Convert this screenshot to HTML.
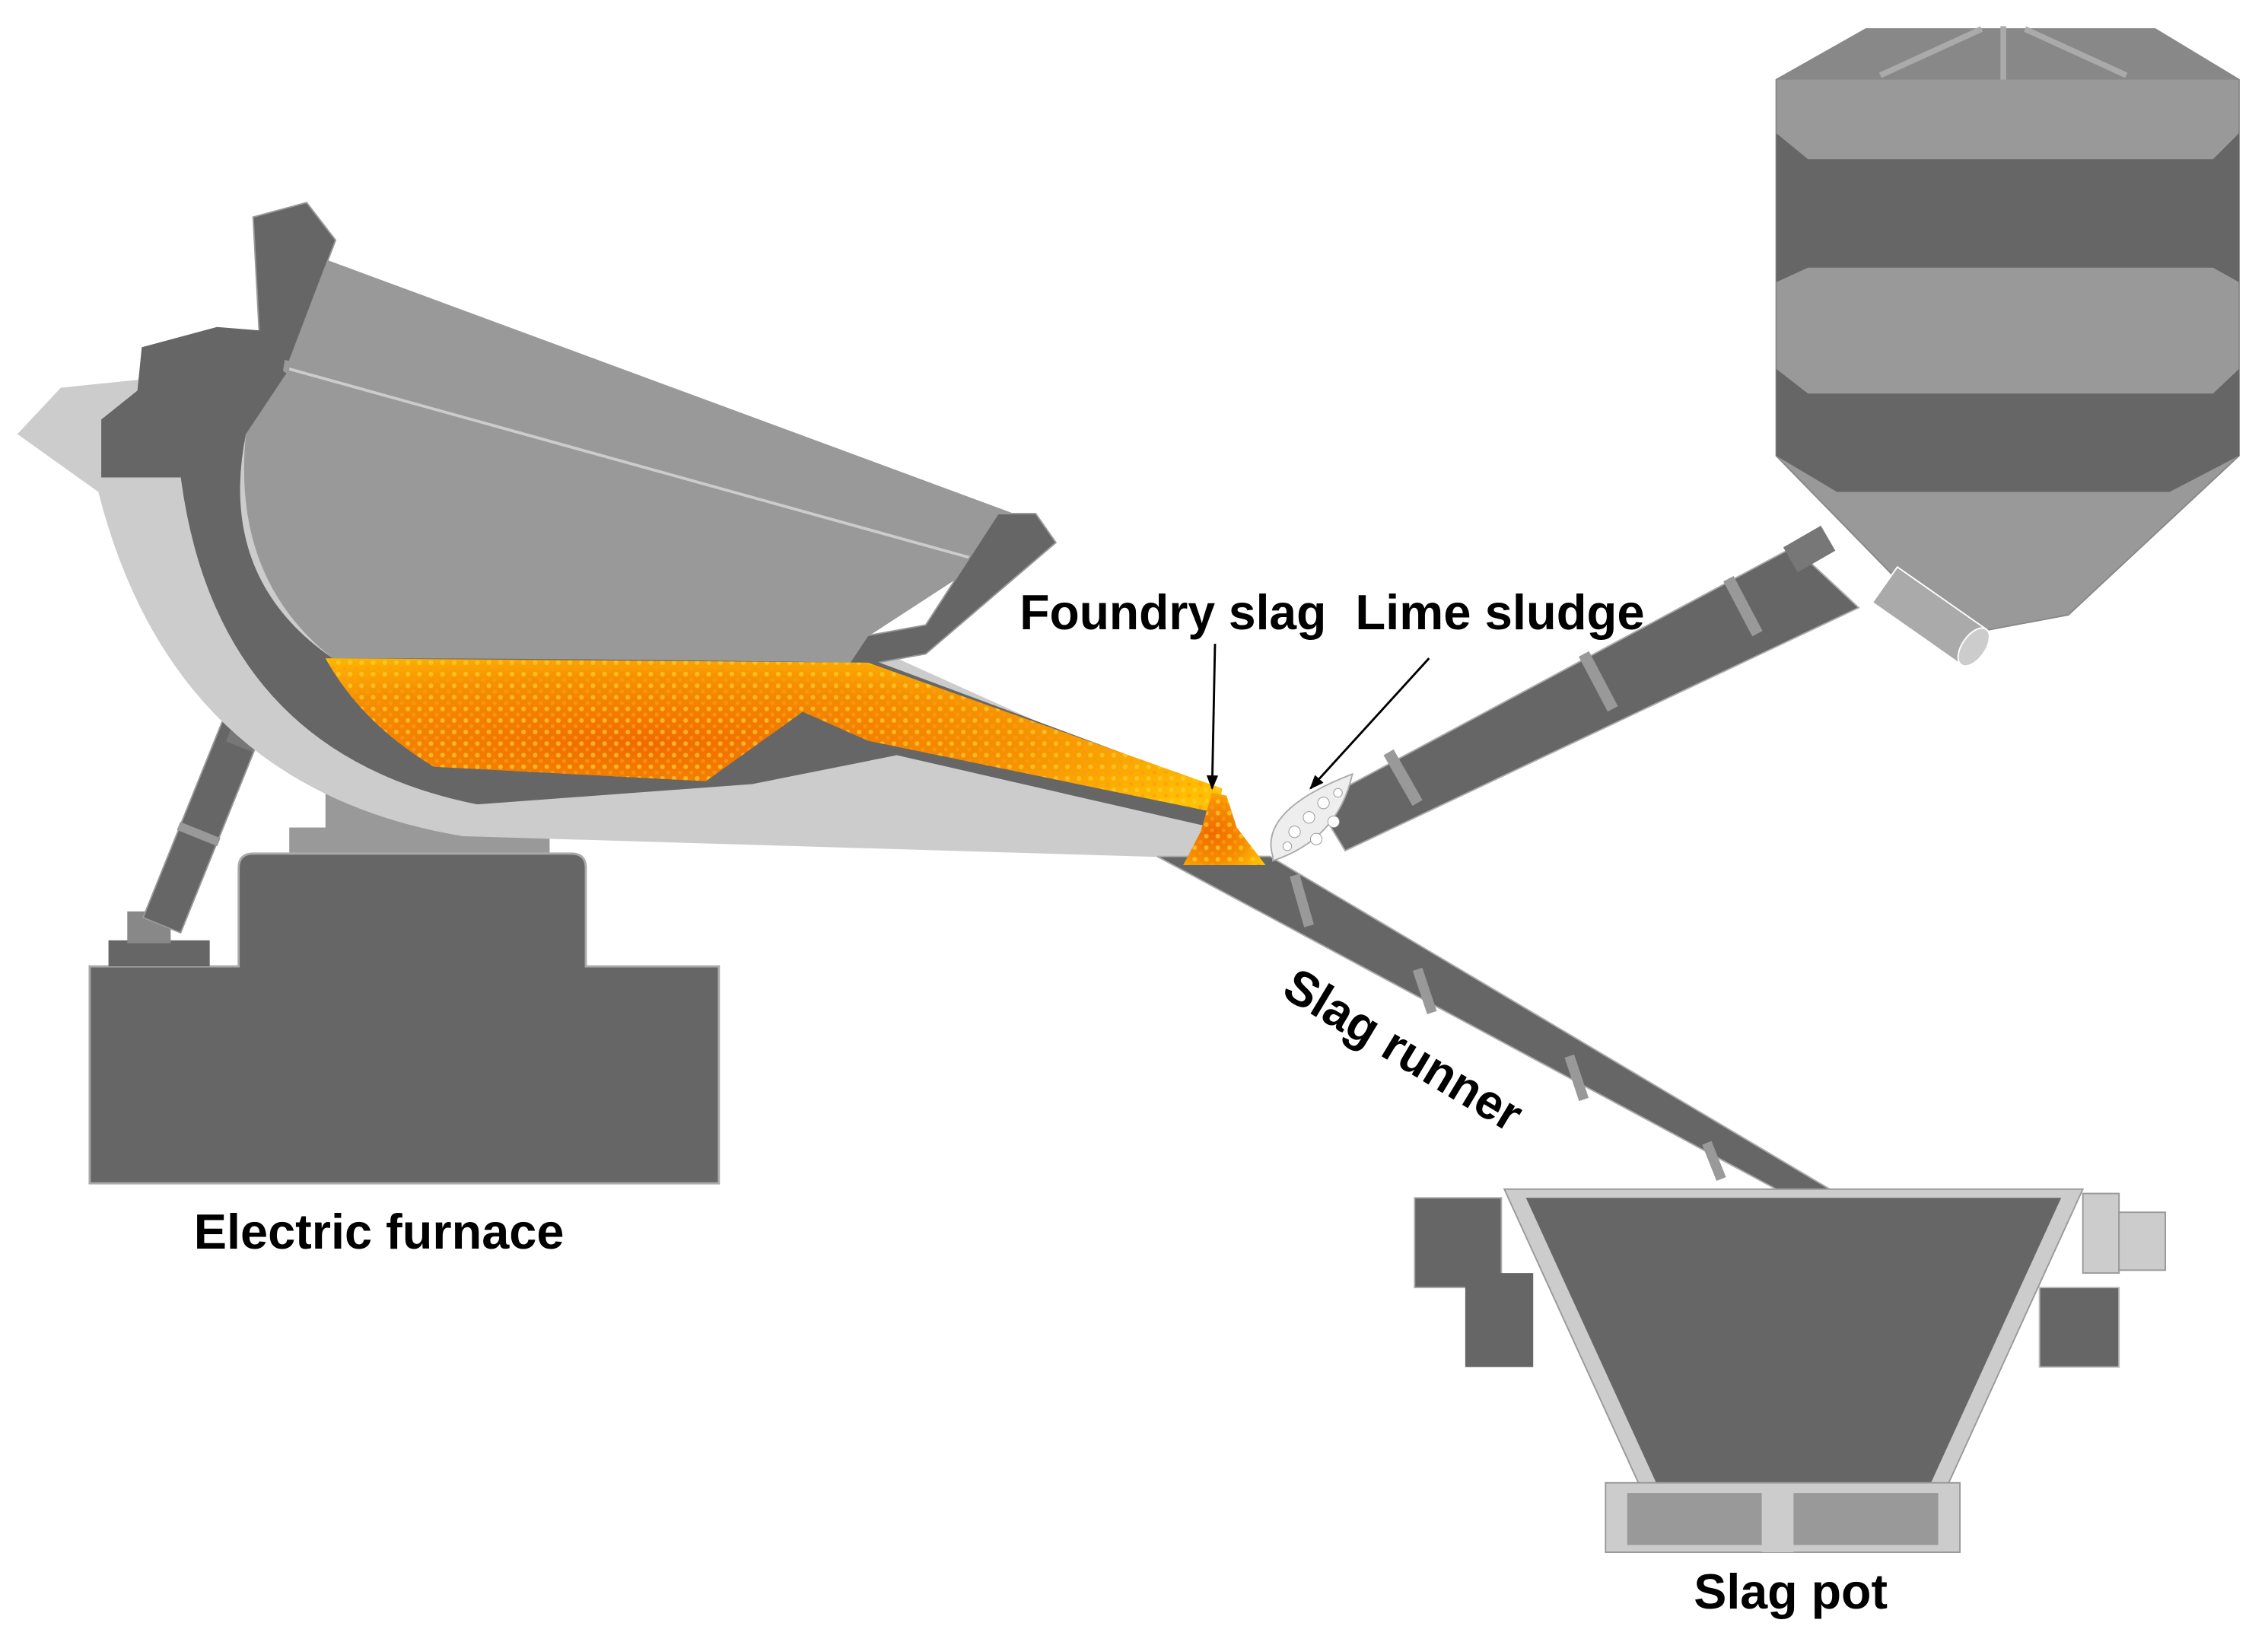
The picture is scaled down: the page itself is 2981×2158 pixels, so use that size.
<!DOCTYPE html>
<html><head><meta charset="utf-8"><style>
html,body{margin:0;padding:0;background:#fff;}
svg{display:block;}
text{font-family:"Liberation Sans Narrow","Liberation Sans",sans-serif;font-weight:bold;fill:#000;}
</style></head><body>
<svg width="2981" height="2158" viewBox="0 0 1568 1135" xmlns="http://www.w3.org/2000/svg">
<defs>
<radialGradient id="slag" cx="0.35" cy="0.55" r="0.7">
<stop offset="0" stop-color="#f06a00"/><stop offset="0.6" stop-color="#f59000"/><stop offset="1" stop-color="#ffc000"/>
</radialGradient>
<pattern id="dots" width="8" height="8" patternUnits="userSpaceOnUse">
<circle cx="2" cy="2" r="1.6" fill="#ffcc33" opacity="0.7"/><circle cx="6" cy="6" r="1.4" fill="#ff9a1a" opacity="0.7"/>
</pattern>
<marker id="ah" markerWidth="10" markerHeight="10" refX="9" refY="5" orient="auto" markerUnits="userSpaceOnUse"><path d="M0,1 L10,5 L0,9 Z" fill="#000"/></marker>
</defs>
<rect width="1568" height="1135" fill="#fff"/>

<!-- furnace base -->
<rect x="225" y="535" width="155" height="45" fill="#999"/>
<rect x="200" y="572" width="180" height="20" fill="#999"/>
<path d="M165,600 Q165,590 175,590 L395,590 Q405,590 405,600 L405,668 L497,668 L497,818 L62,818 L62,668 L165,668 Z" fill="#666" stroke="#aaa" stroke-width="1.5"/>
<rect x="75" y="650" width="70" height="18" fill="#666"/>
<rect x="88" y="630" width="30" height="22" fill="#888"/>
<g transform="translate(140,570) rotate(-68)"><rect x="-75" y="-14" width="150" height="28" fill="#666" stroke="#999"/><rect x="-10" y="-15" width="6" height="30" fill="#999"/></g>
<g transform="translate(170,505) rotate(-68)"><rect x="-12" y="-10" width="24" height="20" fill="#777"/></g>

<!-- furnace shell light -->
<path d="M12,300 L42,268 L100,262 L620,455 L842,555 L822,593 L320,578 Q120,545 68,340 Z" fill="#ccc"/>
<!-- upper body -->
<path d="M200,170 L720,362 L600,440 L588,460 L170,300 L195,255 Z" fill="#999"/>
<path d="M200,255 L705,395" stroke="#ccc" stroke-width="2"/>
<!-- rims -->
<path d="M175,150 L212,140 L232,166 L200,250 L180,245 Z" fill="#666" stroke="#999"/>
<path d="M690,355 L716,355 L730,375 L640,452 L585,462 L596,440 L640,432 Z" fill="#666" stroke="#999"/>
<!-- dark lining -->
<path d="M98,240 L150,226 L198,258 L170,300 Q150,400 230,455 L600,455 L842,545 L838,572 L620,522 L520,542 L330,556 Q150,520 125,330 L70,330 L70,290 L95,270 Z" fill="#666"/>
<path d="M150,226 L200,230 L195,260 Z" fill="#666"/>
<!-- cavity -->
<path d="M170,300 L200,262 L600,440 L588,458 Q400,455 230,455 Q160,400 170,300 Z" fill="#999"/>
<!-- molten slag -->
<path d="M225,455 L600,458 L845,545 L842,562 L600,512 L555,492 L488,540 L300,530 Q250,500 225,455 Z" fill="url(#slag)"/>
<path d="M225,455 L600,458 L845,545 L842,562 L600,512 L555,492 L488,540 L300,530 Q250,500 225,455 Z" fill="url(#dots)"/>

<!-- slag runner -->
<path d="M800,592 L878,592 L1265,822 L1228,822 Z" fill="#666" stroke="#aaa"/>
<g stroke="#999" stroke-width="7">
<line x1="895" y1="605" x2="905" y2="640"/><line x1="980" y1="670" x2="990" y2="700"/><line x1="1085" y1="730" x2="1095" y2="760"/><line x1="1180" y1="790" x2="1190" y2="815"/>
</g>
<!-- falling slag -->
<path d="M838,548 L848,550 L855,572 L875,598 L818,598 L830,575 Z" fill="url(#slag)"/>
<path d="M838,548 L848,550 L855,572 L875,598 L818,598 L830,575 Z" fill="url(#dots)"/>

<!-- lime chute -->
<path d="M910,555 L1240,378 L1285,420 L930,588 Z" fill="#666" stroke="#aaa"/>
<g stroke="#999" stroke-width="8">
<line x1="960" y1="520" x2="980" y2="555"/><line x1="1095" y1="452" x2="1115" y2="490"/><line x1="1195" y1="400" x2="1215" y2="438"/>
</g>
<rect x="1236" y="370" width="30" height="20" fill="#777" transform="rotate(-30 1250 380)"/>
<path d="M880,592 Q870,560 935,535 Q925,580 880,595 Z" fill="#eee" stroke="#aaa"/>
<g fill="#fff" stroke="#999" stroke-width="0.5">
<circle cx="895" cy="575" r="4"/><circle cx="905" cy="565" r="4"/><circle cx="915" cy="555" r="4"/><circle cx="910" cy="580" r="4"/><circle cx="922" cy="568" r="4"/><circle cx="890" cy="585" r="3"/><circle cx="925" cy="548" r="3"/>
</g>

<!-- hopper -->
<path d="M1228,55 L1290,20 L1490,20 L1548,55 L1548,315 L1430,425 L1350,440 L1228,315 Z" fill="#999" stroke="#888"/>
<path d="M1228,92 L1250,110 L1530,110 L1548,92 L1548,195 L1530,185 L1250,185 L1228,195 Z" fill="#666"/>
<path d="M1228,255 L1250,272 L1530,272 L1548,255 L1548,315 L1500,340 L1270,340 L1228,315 Z" fill="#666"/>
<path d="M1290,20 L1490,20 L1548,55 L1228,55 Z" fill="#888"/>
<g stroke="#aaa" stroke-width="4"><line x1="1385" y1="18" x2="1385" y2="55"/><line x1="1300" y1="52" x2="1370" y2="20"/><line x1="1470" y1="52" x2="1400" y2="20"/></g>
<g transform="translate(1340,430) rotate(35)"><rect x="-45" y="-15" width="75" height="30" fill="#aaa" stroke="#fff"/><ellipse cx="30" cy="0" rx="8" ry="15" fill="#ccc" stroke="#fff"/></g>

<!-- slag pot -->
<rect x="978" y="828" width="60" height="62" fill="#666" stroke="#aaa"/>
<rect x="1013" y="880" width="47" height="65" fill="#666"/>
<rect x="1410" y="890" width="55" height="55" fill="#666" stroke="#bbb"/>
<rect x="1440" y="825" width="25" height="55" fill="#ccc" stroke="#999"/>
<rect x="1465" y="838" width="32" height="40" fill="#ccc" stroke="#999"/>
<path d="M1040,822 L1440,822 L1345,1030 L1135,1030 Z" fill="#ccc" stroke="#999"/>
<path d="M1055,828 L1425,828 L1335,1025 L1145,1025 Z" fill="#666"/>
<rect x="1110" y="1025" width="245" height="48" fill="#ccc" stroke="#999"/>
<rect x="1125" y="1032" width="215" height="36" fill="#999"/>
<rect x="1218" y="1030" width="22" height="43" fill="#ccc"/>

<!-- arrows -->
<line x1="840" y1="445" x2="838" y2="545" stroke="#000" stroke-width="1.5" marker-end="url(#ah)"/>
<line x1="988" y1="455" x2="906" y2="545" stroke="#000" stroke-width="1.5" marker-end="url(#ah)"/>

<!-- labels -->
<text x="705" y="435" font-size="34" textLength="212" lengthAdjust="spacingAndGlyphs">Foundry slag</text>
<text x="937" y="435" font-size="34" textLength="200" lengthAdjust="spacingAndGlyphs">Lime sludge</text>
<text x="134" y="863" font-size="34" textLength="256" lengthAdjust="spacingAndGlyphs">Electric furnace</text>
<text x="1171" y="1112" font-size="34" textLength="134" lengthAdjust="spacingAndGlyphs">Slag pot</text>
<text transform="translate(885,688) rotate(31)" font-size="34" textLength="185" lengthAdjust="spacingAndGlyphs">Slag runner</text>
</svg>
</body></html>
